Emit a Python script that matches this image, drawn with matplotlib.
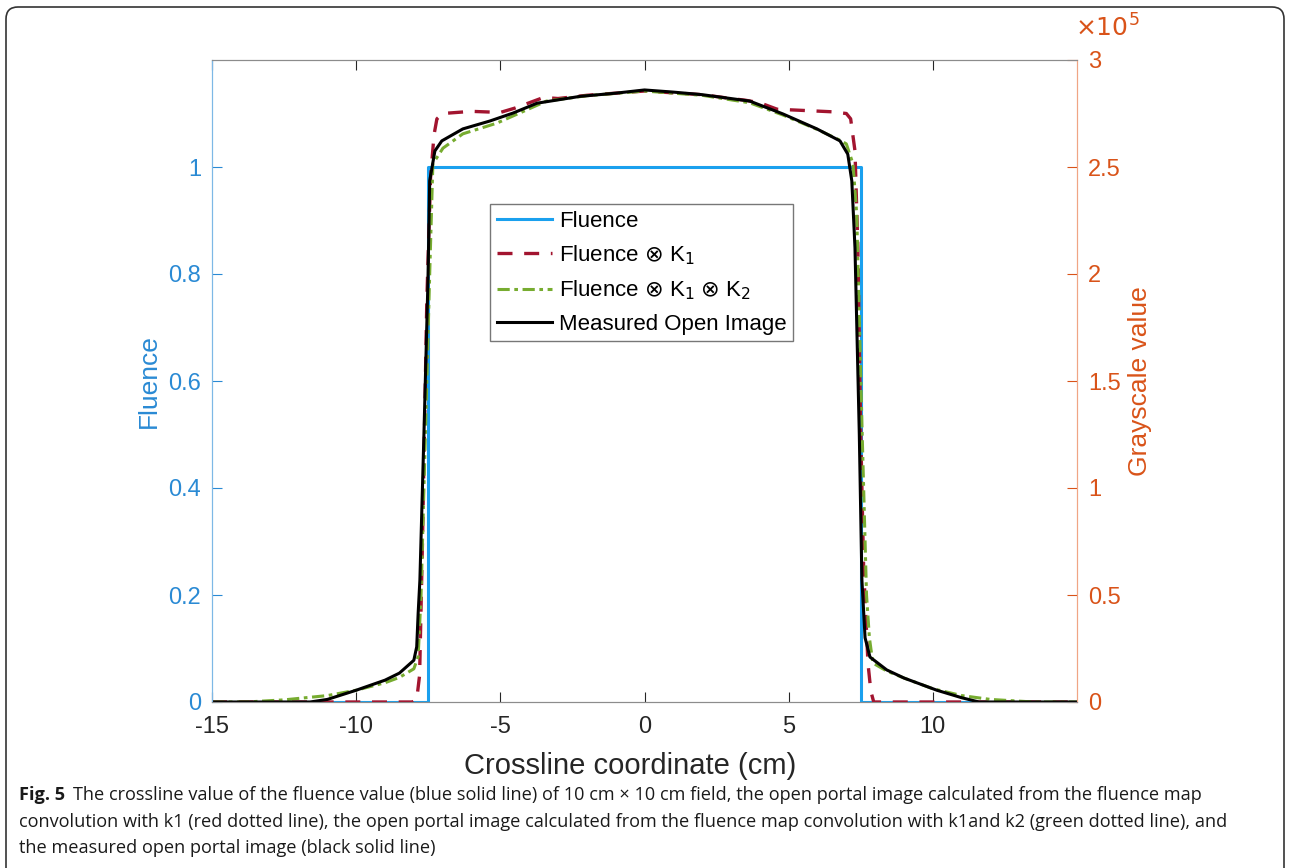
import numpy as np
import matplotlib
matplotlib.use('Agg')
import matplotlib.pyplot as plt
from matplotlib.patches import FancyBboxPatch
from matplotlib.ticker import FuncFormatter

# ---------- data ----------
# Fluence (left axis)
x_flu = [-15, -7.5, -7.5, 7.5, 7.5, 15]
y_flu = [0, 0, 1, 1, 0, 0]

# Fluence (x) K1 (right axis, grayscale x1e5)
x_k1 = [-15, -8.05, -7.9, -7.8, -7.7, -7.55, -7.42, -7.3, -7.2, -7.0, -6.0, -5.0,
        -4.5, -3.9, -3.5, -3.0, -2.0, 0.0, 2.0, 3.0, 3.5, 4.0, 4.6, 5.4, 6.5, 7.0,
        7.15, 7.3, 7.4, 7.5, 7.6, 7.75, 7.85, 7.95, 15]
y_k1 = [0, 0, 0.012, 0.125, 0.75, 1.875, 2.45, 2.65, 2.725, 2.75, 2.76, 2.755,
        2.775, 2.805, 2.825, 2.82, 2.835, 2.855, 2.838, 2.82, 2.812, 2.80, 2.77,
        2.765, 2.758, 2.75, 2.725, 2.575, 2.125, 1.25, 0.625, 0.182, 0.05, 0, 0]

# Fluence (x) K1 (x) K2
x_k12 = [-15, -13.8, -12.5, -11, -10, -9, -8.5, -8.0, -7.85, -7.75, -7.6, -7.45,
         -7.34, -6.99, -6.3, -5.12, -4.2, -3.4, -2.0, 0.0, 2.0, 3.65, 4.8, 6.0,
         6.78, 7.0, 7.23, 7.36, 7.55, 7.7, 7.8, 7.92, 8.4, 9, 10, 11, 12, 13.5, 15]
y_k12 = [0, 0, 0.01, 0.03, 0.055, 0.09, 0.115, 0.155, 0.212, 0.5, 1.25, 2.0,
         2.515, 2.588, 2.655, 2.705, 2.76, 2.808, 2.833, 2.855, 2.835, 2.80, 2.743,
         2.675, 2.625, 2.608, 2.515, 2.28, 1.25, 0.5, 0.3, 0.182, 0.145, 0.112,
         0.062, 0.03, 0.012, 0, 0]

# Measured open image
x_meas = [-15, -11.6, -11, -10, -9, -8.5, -8.0, -7.9, -7.85, -7.79, -7.65, -7.51,
          -7.45, -7.27, -7.03, -6.3, -5.36, -4.56, -3.73, -2.24, -1.0, 0.0, 1.0,
          2.0, 3.65, 4.8, 5.98, 6.78, 7.05, 7.19, 7.3, 7.45, 7.54, 7.65, 7.82,
          8.4, 9, 10.14, 11, 11.6, 15]
y_meas = [0, 0, 0.012, 0.055, 0.102, 0.135, 0.195, 0.258, 0.415, 0.57, 1.25,
          1.968, 2.435, 2.575, 2.622, 2.678, 2.715, 2.752, 2.798, 2.83, 2.845,
          2.86, 2.85, 2.838, 2.808, 2.748, 2.678, 2.622, 2.56, 2.435, 2.122, 1.25,
          0.57, 0.3, 0.21, 0.15, 0.112, 0.055, 0.02, 0, 0]

GRAY_SCALE = 1e5

c_blue = '#1aa0ee'
c_blue_txt = '#2a8ad4'
c_orange = '#d95319'
c_red = '#a2142f'
c_green = '#77ac30'

plt.rcParams['font.family'] = ['Liberation Sans', 'DejaVu Sans']
plt.rcParams['axes.unicode_minus'] = False

fig = plt.figure(figsize=(12.9, 8.68), dpi=100)
ax = fig.add_axes([212/1290, 1 - 702/868, 865/1290, 642/868])
ax2 = ax.twinx()

h1, = ax.plot(x_flu, y_flu, color=c_blue, lw=2.2, label='Fluence')
h2, = ax2.plot(x_k1, np.array(y_k1) * GRAY_SCALE, color=c_red, lw=2.4,
               ls=(0, (4.5, 3.5)), label=r'Fluence $\otimes$ K$_1$')
h3, = ax2.plot(x_k12, np.array(y_k12) * GRAY_SCALE, color=c_green, lw=2.2,
               ls=(0, (4, 1.5, 1.2, 1.5)),
               label=r'Fluence $\otimes$ K$_1$ $\otimes$ K$_2$')
h4, = ax2.plot(x_meas, np.array(y_meas) * GRAY_SCALE, color='black', lw=2.2,
               label='Measured Open Image')

ax.set_xlim(-15, 15)
ax.set_ylim(0, 1.2)
ax2.set_ylim(0, 3 * GRAY_SCALE)

ax.set_xticks([-15, -10, -5, 0, 5, 10])
ax.set_yticks([0, 0.2, 0.4, 0.6, 0.8, 1.0])
ax.set_yticklabels(['0', '0.2', '0.4', '0.6', '0.8', '1'])
ax2.set_yticks(np.arange(0, 3.01, 0.5) * GRAY_SCALE)
ax2.yaxis.set_major_formatter(FuncFormatter(lambda v, p: f'{v / GRAY_SCALE:g}'))

ax.tick_params(axis='x', direction='in', top=True, labelsize=17, colors='#262626',
               length=7, pad=10)
ax.tick_params(axis='y', direction='in', labelsize=17, colors=c_blue_txt,
               length=7, pad=8)
ax2.tick_params(axis='y', direction='in', labelsize=17, colors=c_orange,
                length=7, pad=8)

for a in (ax, ax2):
    a.spines['top'].set_color('#8c8c8c')
    a.spines['bottom'].set_color('#8c8c8c')
    a.spines['left'].set_color('#7db8e6')
    a.spines['right'].set_color('#f0a585')

ax.set_xlabel('Crossline coordinate (cm)', fontsize=21, color='#262626')
ax.xaxis.set_label_coords(0.483, -0.078)
ax.set_ylabel('Fluence', fontsize=19, color=c_blue_txt, labelpad=5)
ax2.set_ylabel('Grayscale value', fontsize=19, color=c_orange, labelpad=5)
ax2.text(0.998, 1.028, r'$\times10^5$', transform=ax2.transAxes, fontsize=18,
         color=c_orange, ha='left', va='bottom')

leg = ax2.legend(handles=[h1, h2, h3, h4], loc='upper left',
                 bbox_to_anchor=(278/865, 498/642), fontsize=16, frameon=True,
                 fancybox=False, edgecolor='#555555', handlelength=2.5,
                 handletextpad=0.3, borderpad=0.3, labelspacing=0.52,
                 borderaxespad=0)
leg.get_frame().set_linewidth(1.0)

# caption
fig.patches.append(FancyBboxPatch((6, -20), 1278, 881,
                                  boxstyle='round,pad=0,rounding_size=12',
                                  transform=None, fill=False, ec='#333333', lw=1.2))
cap_font = ['Open Sans', 'DejaVu Sans']
lines = ['The crossline value of the fluence value (blue solid line) of 10 cm \u00d7 10 cm field, the open portal image calculated from the fluence map',
         'convolution with k1 (red dotted line), the open portal image calculated from the fluence map convolution with k1and k2 (green dotted line), and',
         'the measured open portal image (black solid line)']
renderer = fig.canvas.get_renderer()
t0 = fig.text(19/1290, 1 - 795/868, 'Fig. 5', fontsize=13.1, fontweight='bold',
              family=cap_font, va='center', ha='left', color='#1a1a1a')
bb = t0.get_window_extent(renderer)
fig.text((bb.x1 + 8) / 1290, 1 - 795/868, lines[0], fontsize=13.1, family=cap_font,
         va='center', ha='left', color='#1a1a1a')
fig.text(19/1290, 1 - 822/868, lines[1], fontsize=13.1, family=cap_font,
         va='center', ha='left', color='#1a1a1a')
fig.text(19/1290, 1 - 848/868, lines[2], fontsize=13.1, family=cap_font,
         va='center', ha='left', color='#1a1a1a')

fig.savefig('out.png', dpi=100)
